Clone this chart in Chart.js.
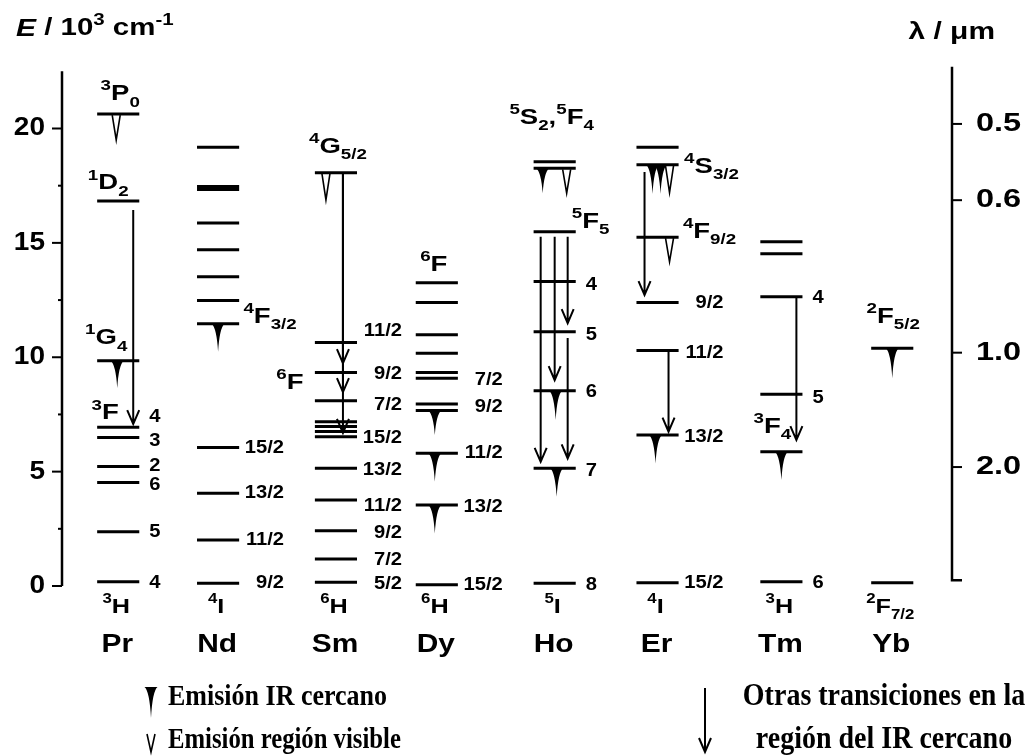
<!DOCTYPE html>
<html>
<head>
<meta charset="utf-8">
<script src="https://cdn.jsdelivr.net/npm/chart.js@4.4.1/dist/chart.umd.min.js"></script>
<style>
  body { margin: 0; background: #fff; }
  #wrap { width: 1033px; height: 756px; position: relative; }
</style>
</head>
<body>
<div id="wrap"><canvas id="levelsChart"></canvas></div>
<script>
const elements = ['Pr', 'Nd', 'Sm', 'Dy', 'Ho', 'Er', 'Tm', 'Yb'];
const groundTerms = ['^3H', '^4I', '^6H', '^6H', '^5I', '^4I', '^3H', '^2F_{7/2}'];

const prLevels = [20.63, 16.83, 9.85, 6.94, 6.49, 5.22, 4.52, 2.37, 0.19];
const ndLevels = [19.18, 17.46, 17.33, 15.87, 14.70, 13.52, 12.48, 11.46, 6.05, 4.05, 2.01, 0.12];
const smLevels = [18.07, 10.64, 9.33, 8.10, 7.18, 6.97, 6.75, 6.53, 5.15, 3.76, 2.42, 1.18, 0.16];
const dyLevels = [13.26, 12.39, 10.98, 10.17, 9.33, 9.08, 7.96, 7.67, 5.80, 3.54, 0.05];
const hoLevels = [18.55, 18.26, 15.49, 13.31, 11.12, 8.54, 5.15, 0.12];
const erLevels = [19.18, 18.41, 15.25, 12.39, 10.29, 6.60, 0.14];
const tmLevels = [15.05, 14.52, 12.65, 8.38, 5.87, 0.19];
const ybLevels = [10.39, 0.14];
const levelSets = [prLevels, ndLevels, smLevels, dyLevels, hoLevels, erLevels, tmLevels, ybLevels];

// números J a la derecha de cada nivel: [E, texto]
const prJ = [[7.4, '4'], [6.35, '3'], [5.25, '2'], [4.4, '6'], [2.37, '5'], [0.15, '4']];
const ndJ = [[6.05, '15/2'], [4.05, '13/2'], [2.0, '11/2'], [0.12, '9/2']];
const smJ = [[11.16, '11/2'], [9.25, '9/2'], [7.91, '7/2'], [6.46, '15/2'], [5.07, '13/2'], [3.5, '11/2'], [2.3, '9/2'], [1.14, '7/2'], [0.07, '5/2']];
const dyJ = [[9.0, '7/2'], [7.81, '9/2'], [5.83, '11/2'], [3.47, '13/2'], [0.04, '15/2']];
const hoJ = [[13.16, '4'], [10.97, '5'], [8.5, '6'], [5.04, '7'], [0.04, '8']];
const erJ = [[12.36, '9/2'], [10.17, '11/2'], [6.53, '13/2'], [0.12, '15/2']];
const tmJ = [[12.58, '4'], [8.21, '5'], [0.12, '6']];
const jLabels = [prJ, ndJ, smJ, dyJ, hoJ, erJ, tmJ, []];

const energyTicks = [0, 5, 10, 15, 20];
const lambdaTicks = [0.5, 0.6, 1.0, 2.0];

// emisiones: [elemento, nivel, fin de la marca]
const nirEmission = [['Pr', 9.85, 8.66], ['Nd', 11.46, 10.24], ['Dy', 7.67, 6.6], ['Dy', 5.80, 4.56], ['Dy', 3.54, 2.3],
  ['Ho', 18.26, 17.17], ['Ho', 8.54, 7.26], ['Ho', 5.15, 3.9], ['Er', 18.41, 17.14], ['Er', 18.41, 17.14],
  ['Er', 6.60, 5.36], ['Tm', 5.87, 4.63], ['Yb', 10.39, 9.08]];
const visEmission = [['Pr', 20.63, 19.5], ['Sm', 18.07, 16.88], ['Ho', 18.26, 17.17], ['Er', 18.41, 17.2], ['Er', 15.25, 14.18]];
// otras transiciones IR: [elemento, desde, hasta]
const otherTransitions = [['Pr', 16.44, 7.08], ['Sm', 18.07, 9.74], ['Sm', 18.07, 8.48], ['Sm', 18.07, 6.69],
  ['Ho', 15.27, 5.43], ['Ho', 15.27, 9.0], ['Ho', 15.27, 11.49], ['Ho', 10.84, 5.58],
  ['Er', 18.1, 12.72], ['Er', 10.29, 6.75], ['Tm', 12.65, 6.38]];

// ---- disposición (px) ----
const colHalf = 0.19;
const colShift = [7, -4, 3, -7, 0, -8, 5, 5];
const nirDx = [-1, 0, -2, -2, -2, -12, 1, 2, -5, 3, -2, 0, 0];
const visDx = [-2, -10, 12, 12, 12];
const arrowDx = [15, 7, 7, 7, -14, 0, 13, 13, -13, 11, 15];
// [elemento, dx, E, texto]
const termLabels = [
  [0, 2, 21.5, '^3P_0'], [0, -10, 17.6, '^1D_2'], [0, -12, 10.83, '^1G_4'], [0, -13, 7.55, '^3F'],
  [1, 52, 11.78, '^4F_{3/2}'], [2, 2, 19.21, '^4G_{5/2}'], [2, -46, 8.88, '^6F'], [3, -3, 14.04, '^6F'],
  [4, -3, 20.46, '^5S_2,^5F_4'], [4, 36, 15.93, '^5F_5'], [5, 54, 18.34, '^4S_{3/2}'], [5, 52, 15.49, '^4F_{9/2}'],
  [6, -9, 6.97, '^3F_4'], [7, 1, 11.78, '^2F_{5/2}']
];

const SANS = '"Liberation Sans", Arial, sans-serif';
const SERIF = '"Liberation Serif", "Times New Roman", serif';

function rich(ctx, x, y, str, size, align, sx) {
  sx = sx || 1.1;
  const parts = [];
  let i = 0;
  while (i < str.length) {
    let mode = 'n', txt;
    if (str[i] === '^' || str[i] === '_') {
      mode = str[i] === '^' ? 'sup' : 'sub';
      i++;
      if (str[i] === '{') { const j = str.indexOf('}', i); txt = str.slice(i + 1, j); i = j + 1; }
      else { txt = str[i]; i++; }
    } else {
      let j = i;
      while (j < str.length && str[j] !== '^' && str[j] !== '_') j++;
      txt = str.slice(i, j); i = j;
    }
    parts.push({ mode, txt });
  }
  let total = 0;
  parts.forEach(p => {
    p.size = p.mode === 'n' ? size : Math.round(size * 0.68);
    ctx.font = 'bold ' + p.size + 'px ' + SANS;
    p.w = ctx.measureText(p.txt).width * sx;
    total += p.w;
  });
  let cx = align === 'center' ? x - total / 2 : align === 'right' ? x - total : x;
  ctx.textAlign = 'left';
  ctx.textBaseline = 'middle';
  parts.forEach(p => {
    const dy = p.mode === 'sup' ? -size * 0.36 : p.mode === 'sub' ? size * 0.38 : 0;
    ctx.font = 'bold ' + p.size + 'px ' + SANS;
    ctx.save();
    ctx.translate(cx, y + dy);
    ctx.scale(sx, 1);
    ctx.fillText(p.txt, 0, 0);
    ctx.restore();
    cx += p.w;
  });
}

function serifText(ctx, txt, x, y, size, align, sx) {
  ctx.save();
  ctx.font = 'bold ' + size + 'px ' + SERIF;
  ctx.textBaseline = 'middle';
  ctx.textAlign = align;
  ctx.translate(x, y);
  ctx.scale(sx || 1, 1.12);
  ctx.fillText(txt, 0, 0);
  ctx.restore();
}

function spike(ctx, x, top, bottom, filled) {
  ctx.beginPath();
  if (filled) {
    ctx.moveTo(x - 6.5, top);
    ctx.quadraticCurveTo(x - 1.5, top + 4, x, bottom);
    ctx.quadraticCurveTo(x + 1.5, top + 4, x + 6.5, top);
    ctx.closePath();
    ctx.fill();
  } else {
    ctx.lineWidth = 1.6;
    ctx.moveTo(x - 4, top + 1);
    ctx.lineTo(x, bottom);
    ctx.lineTo(x + 4, top + 1);
    ctx.stroke();
  }
}

function arrow(ctx, x, y1, y2) {
  ctx.lineWidth = 2;
  ctx.beginPath();
  ctx.moveTo(x, y1);
  ctx.lineTo(x, y2);
  ctx.moveTo(x - 6, y2 - 14);
  ctx.lineTo(x, y2);
  ctx.lineTo(x + 6, y2 - 14);
  ctx.stroke();
}

const diagramPlugin = {
  id: 'diagram',
  afterDraw(chart) {
    const ctx = chart.ctx;
    const xs = chart.scales.x, ys = chart.scales.y, y2 = chart.scales.y2;
    const colX = i => xs.getPixelForValue(i) + colShift[i];
    const idx = name => elements.indexOf(name);
    ctx.save();
    ctx.fillStyle = '#000';
    ctx.strokeStyle = '#000';
    ctx.lineCap = 'butt';

    // eje izquierdo
    const left = xs.left;
    ctx.lineWidth = 2.5;
    ctx.beginPath();
    ctx.moveTo(left, ys.getPixelForValue(0));
    ctx.lineTo(left, ys.getPixelForValue(22.5));
    ctx.stroke();
    ctx.lineWidth = 2;
    for (let v = 0; v <= 20; v += 2.5) {
      const py = ys.getPixelForValue(v);
      ctx.beginPath();
      ctx.moveTo(left, py);
      ctx.lineTo(left - (v % 5 === 0 ? 10 : 4), py);
      ctx.stroke();
    }
    energyTicks.forEach(v => rich(ctx, 45, ys.getPixelForValue(v), String(v), 25, 'right', 1.12));

    // eje derecho (longitud de onda)
    const right = xs.right;
    ctx.lineWidth = 2.5;
    ctx.beginPath();
    ctx.moveTo(right + 10, y2.getPixelForValue(0.05));
    ctx.lineTo(right, y2.getPixelForValue(0.05));
    ctx.lineTo(right, y2.getPixelForValue(22.5));
    ctx.stroke();
    ctx.lineWidth = 2;
    lambdaTicks.forEach(l => {
      const py = y2.getPixelForValue(10 / l);
      ctx.beginPath();
      ctx.moveTo(right, py);
      ctx.lineTo(right + 10, py);
      ctx.stroke();
      rich(ctx, 976, py, l.toFixed(1), 26, 'left', 1.25);
    });

    // títulos de ejes
    ctx.save();
    ctx.font = 'italic bold 24px ' + SANS;
    ctx.textBaseline = 'middle';
    ctx.textAlign = 'left';
    ctx.translate(16, 29);
    ctx.scale(1.25, 1);
    ctx.fillText('E', 0, 0);
    ctx.restore();
    rich(ctx, 36, 29, ' / 10^3 cm^{-1}', 23, 'left', 1.28);
    rich(ctx, 995, 33, 'λ / μm', 23, 'right', 1.3);

    // marcas de emisión
    nirEmission.forEach((e, k) => {
      const x = colX(idx(e[0])) + nirDx[k];
      spike(ctx, x, ys.getPixelForValue(e[1]), ys.getPixelForValue(e[2]), true);
    });
    visEmission.forEach((e, k) => {
      const x = colX(idx(e[0])) + visDx[k];
      spike(ctx, x, ys.getPixelForValue(e[1]), ys.getPixelForValue(e[2]), false);
    });
    otherTransitions.forEach((t, k) => {
      const x = colX(idx(t[0])) + arrowDx[k];
      arrow(ctx, x, ys.getPixelForValue(t[1]), ys.getPixelForValue(t[2]));
    });

    // etiquetas
    termLabels.forEach(t => rich(ctx, colX(t[0]) + t[1], ys.getPixelForValue(t[2]), t[3], 22, 'center', 1.25));
    jLabels.forEach((list, i) => {
      list.forEach(j => {
        const frac = j[1].length > 1;
        rich(ctx, colX(i) + (frac ? 66 : 31), ys.getPixelForValue(j[0]), j[1], 18, frac ? 'right' : 'left', 1.12);
      });
    });
    groundTerms.forEach((t, i) => rich(ctx, colX(i) - 2, 607, t, 21, 'center', 1.2));
    elements.forEach((el, i) => rich(ctx, colX(i) - 1, 645, el, 26, 'center', 1.15));

    // leyenda
    spike(ctx, 151, 687, 718, true);
    spike(ctx, 151, 733, 752, false);
    arrow(ctx, 705, 688, 752);
    serifText(ctx, 'Emisión IR cercano', 168, 697, 26, 'left', 1);
    serifText(ctx, 'Emisión región visible', 168, 740, 26, 'left', 0.95);
    serifText(ctx, 'Otras transiciones en la', 884, 697, 28, 'center', 1);
    serifText(ctx, 'región del IR cercano', 884, 740, 28, 'center', 1);
    ctx.restore();
  }
};

const datasets = levelSets.map((levels, i) => ({
  label: elements[i],
  data: levels.flatMap(e => [
    { x: i - colHalf + colShift[i] / 110.9, y: e },
    { x: i + colHalf + colShift[i] / 110.9, y: e },
    { x: i, y: null }
  ]),
  borderColor: '#000',
  borderWidth: 3,
  borderCapStyle: 'butt',
  pointRadius: 0,
  spanGaps: false,
  tension: 0,
  clip: false
}));

new Chart(document.getElementById('levelsChart').getContext('2d'), {
  type: 'line',
  data: { datasets: datasets },
  options: {
    responsive: true,
    maintainAspectRatio: false,
    animation: false,
    layout: { padding: { left: 62, right: 81, top: 72, bottom: 170 } },
    plugins: { legend: { display: false }, tooltip: { enabled: false } },
    scales: {
      x: { type: 'linear', min: -0.444, max: 7.584, display: false },
      y: { type: 'linear', min: 0, max: 22.47, display: false },
      y2: { type: 'linear', position: 'right', min: -0.2, max: 22.27, display: false }
    }
  },
  plugins: [diagramPlugin]
});
</script>
</body>
</html>
